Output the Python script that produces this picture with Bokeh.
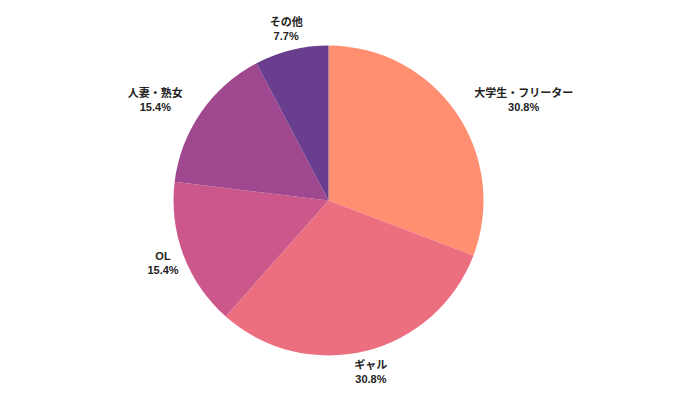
import math
from bokeh.plotting import figure
from bokeh.models import ColumnDataSource
from bokeh.core.properties import value
from bokeh.embed import file_html
from bokeh.resources import INLINE

categories = ["大学生・フリーター", "ギャル", "OL", "人妻・熟女", "その他"]
counts = [4, 4, 2, 2, 1]
colors = ["#FF8F70", "#EC6F80", "#CC588B", "#A0488F", "#693E8F"]
label_align = ["left", "center", "center", "right", "center"]

FS = 11
total = sum(counts)
R = 155
LR = 177


def text_width(s):
    return sum(FS if ord(ch) > 0x2000 else 0.6 * FS for ch in s)


starts, ends, nx, px, ly, pcts = [], [], [], [], [], []
acc = 0
for c, name, al in zip(counts, categories, label_align):
    a0 = acc / total
    acc += c
    a1 = acc / total
    starts.append(math.pi / 2 - a0 * 2 * math.pi)
    ends.append(math.pi / 2 - a1 * 2 * math.pi)
    mid = (a0 + a1) / 2 * 2 * math.pi
    ax = LR * math.sin(mid)
    shift = {"left": 1, "right": -1, "center": 0}[al] * text_width(name) / 2
    nx.append(ax + shift)
    px.append(ax + shift)
    ly.append(LR * math.cos(mid))
    pcts.append(f"{c / total * 100:.1f}%")

src = ColumnDataSource(dict(start=starts, end=ends, color=colors, x=[0] * len(counts), y=[0] * len(counts)))
lab = ColumnDataSource(dict(nx=nx, px=px, y_top=[v + 7 for v in ly], y_bot=[v - 7 for v in ly],
                            name=categories, pct=pcts))

p = figure(width=684, height=384, x_range=(-328, 356), y_range=(-184, 200),
           output_backend="svg", toolbar_location=None, min_border=0)
p.wedge(x="x", y="y", radius=R, start_angle="start", end_angle="end", direction="clock",
        fill_color="color", line_color=None, source=src)
for col, xc, yc in (("name", "nx", "y_top"), ("pct", "px", "y_bot")):
    p.text(x=xc, y=yc, text=col, source=lab,
           text_font=value("Liberation Sans, Noto Sans CJK JP"), text_font_style="bold",
           text_font_size=f"{FS}px", text_align="center", text_baseline="middle", text_color="#222222")

p.axis.visible = False
p.grid.visible = False
p.outline_line_color = None
p.background_fill_color = "white"
p.border_fill_color = "white"

open("out.html", "w").write(file_html(p, INLINE))
